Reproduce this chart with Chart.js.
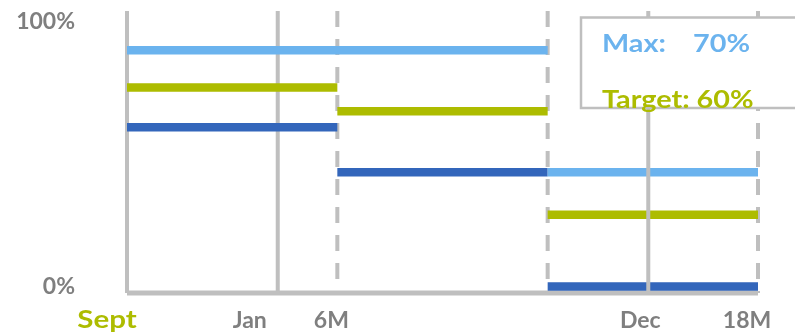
<!DOCTYPE html>
<html>
<head>
<meta charset="utf-8">
<script src="https://cdn.jsdelivr.net/npm/chart.js@4.4.1/dist/chart.umd.min.js"></script>
<style>
  html, body { margin: 0; padding: 0; background: #ffffff; }
  #wrap { width: 795px; height: 334px; }
</style>
</head>
<body>
<div id="wrap"><canvas id="c" width="795" height="334"></canvas></div>
<script>
// Timeline measured in months from the September start
const stageBounds = [0, 6, 12, 18];
const maxLevels = [89, 89, 43];
const targetLevels = [75, 66, 27];
const minLevels = [60, 43, 0];

// Calendar marks and period marks along the timeline
const markMonths = [0, 4.3, 6, 12, 14.87, 18];
const markLabels = ['Sept', 'Jan', '6M', '', 'Dec', '18M'];

const yTickValues = [0, 100];
const boxMaxValue = 70;
const boxTargetValue = 60;

// Styling
const LIGHT_BLUE = '#6BB3EE';
const GREEN = '#ADBC00';
const DARK_BLUE = '#3366BB';
const RULE_GRAY = '#BFBFBF';
const TEXT_GRAY = '#7F7F7F';
const FONT = 'Lato, "Open Sans", sans-serif';
const Y_MIN = -2.45, Y_MAX = 103.8;

// One flat segment per stage; null points break the line between stages
function stepPoints(levels) {
  const pts = [];
  levels.forEach((v, i) => {
    if (i > 0) pts.push({ x: stageBounds[i], y: null });
    pts.push({ x: stageBounds[i], y: v }, { x: stageBounds[i + 1], y: v });
  });
  return pts;
}

function levelSet(label, levels, color) {
  return {
    label, data: stepPoints(levels), borderColor: color, borderWidth: 8.5,
    borderCapStyle: 'butt', pointRadius: 0, tension: 0, spanGaps: false,
    clip: false, order: 1
  };
}

// Vertical rules: period marks (every 6 months) dashed, calendar months solid
const markSets = markMonths.map((m, i) => {
  const isPeriod = m > 0 && Number.isInteger(m) && m % 6 === 0;
  return {
    label: 'mark-' + i,
    data: [{ x: m, y: Y_MAX }, { x: m, y: Y_MIN }],
    borderColor: RULE_GRAY, borderWidth: 4, borderCapStyle: 'butt',
    borderDash: isPeriod ? [16, 12] : [],
    pointRadius: 0, clip: false,
    order: markLabels[i] === 'Dec' ? 0 : 3
  };
});

const baseLine = {
  label: 'baseline',
  data: [{ x: stageBounds[0], y: Y_MIN }, { x: stageBounds[stageBounds.length - 1], y: Y_MIN }],
  borderColor: RULE_GRAY, borderWidth: 5, borderCapStyle: 'butt',
  pointRadius: 0, clip: false, order: 3
};

// Text drawn with a horizontal stretch (wide display lettering)
function wideText(ctx, text, x, y, align, stretch) {
  ctx.save();
  ctx.translate(x, y);
  ctx.scale(stretch, 1);
  ctx.textAlign = align;
  ctx.textBaseline = 'alphabetic';
  ctx.fillText(text, 0, 0);
  ctx.restore();
}

// Month labels under the rules, nudged left of each rule
const labelNudge = [-20, -28, -6, 0, -8, -11];
const monthLabels = {
  id: 'monthLabels',
  afterDraw(chart) {
    const { ctx } = chart;
    const xs = chart.scales.x;
    ctx.save();
    markMonths.forEach((m, i) => {
      if (!markLabels[i]) return;
      const x = xs.getPixelForValue(m) + labelNudge[i];
      if (i === 0) {
        ctx.font = 'bold 25px ' + FONT;
        ctx.fillStyle = GREEN;
        wideText(ctx, markLabels[i], x, 328, 'center', 1.18);
      } else {
        ctx.font = 'bold 23px ' + FONT;
        ctx.fillStyle = TEXT_GRAY;
        wideText(ctx, markLabels[i], x, 328, 'center', 1);
      }
    });
    ctx.restore();
  }
};

// Boxed note with the Max and Target figures
const noteBox = {
  id: 'noteBox',
  afterDatasetsDraw(chart) {
    const { ctx } = chart;
    ctx.save();
    ctx.fillStyle = '#ffffff';
    ctx.strokeStyle = RULE_GRAY;
    ctx.lineWidth = 2.5;
    ctx.fillRect(581, 17.5, 230, 90.5);
    ctx.strokeRect(581, 17.5, 230, 90.5);
    ctx.font = 'bold 24px ' + FONT;
    ctx.fillStyle = LIGHT_BLUE;
    wideText(ctx, 'Max:', 602, 52, 'left', 1.2);
    wideText(ctx, boxMaxValue + '%', 750, 52, 'right', 1.2);
    ctx.fillStyle = GREEN;
    wideText(ctx, 'Target: ' + boxTargetValue + '%', 602, 108, 'left', 1.2);
    ctx.restore();
  }
};

new Chart(document.getElementById('c'), {
  type: 'line',
  data: {
    datasets: [
      levelSet('Max', maxLevels, LIGHT_BLUE),
      levelSet('Target', targetLevels, GREEN),
      levelSet('Min', minLevels, DARK_BLUE),
      ...markSets,
      baseLine
    ]
  },
  options: {
    responsive: false,
    animation: false,
    events: [],
    layout: { padding: { top: 11, right: 37, bottom: 41, left: 0 } },
    plugins: { legend: { display: false }, tooltip: { enabled: false } },
    scales: {
      x: { type: 'linear', min: stageBounds[0], max: stageBounds[stageBounds.length - 1], display: false },
      y: {
        type: 'linear', min: Y_MIN, max: Y_MAX,
        afterBuildTicks: s => { s.ticks = yTickValues.map(v => ({ value: v })); },
        afterFit: s => { s.width = 127; s.paddingTop = 0; s.paddingBottom = 0; },
        grid: { display: false, drawTicks: false },
        border: { display: false },
        ticks: {
          padding: 52, color: TEXT_GRAY,
          font: { family: FONT, weight: 'bold', size: 23, lineHeight: 0.9 },
          callback: v => v + '%'
        }
      }
    }
  },
  plugins: [noteBox, monthLabels]
});
</script>
</body>
</html>
